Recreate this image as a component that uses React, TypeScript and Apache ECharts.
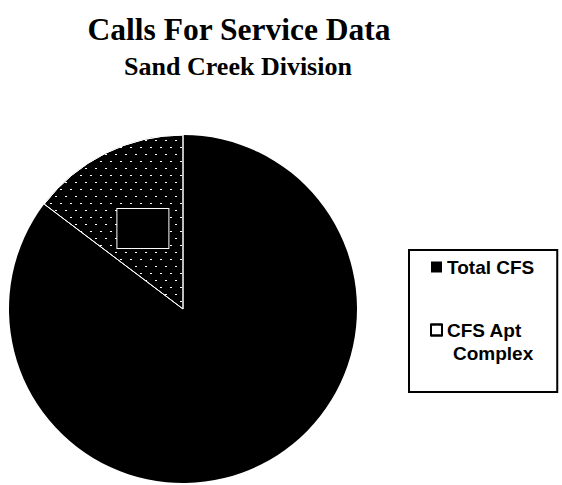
import React, { useEffect, useRef } from "react";
import * as echarts from "echarts";

const categories = ["Total CFS", "CFS Apt Complex"];
const legendLabels = ["Total CFS", "CFS Apt"];
const legendWrap = "Complex";
const values = [85.3, 14.7];
const titleText = "Calls For Service Data";
const subtitleText = "Sand Creek Division";

export default function App() {
  const ref = useRef<HTMLDivElement>(null);
  useEffect(() => {
    if (!ref.current) return;
    const chart = echarts.init(ref.current, null, { renderer: "svg" });
    const legendText = {
      fontFamily: "Liberation Sans",
      fontWeight: "bold",
      fontSize: 19,
      color: "#000",
      lineHeight: 24,
    };
    chart.setOption({
      animation: false,
      backgroundColor: "#fff",
      title: [
        {
          text: titleText,
          left: 234,
          top: 8,
          textAlign: "center",
          textStyle: {
            fontFamily: "Liberation Serif",
            fontWeight: "bold",
            fontSize: 31.5,
            color: "#000",
          },
        },
        {
          text: subtitleText,
          left: 233,
          top: 48,
          textAlign: "center",
          textStyle: {
            fontFamily: "Liberation Serif",
            fontWeight: "bold",
            fontSize: 26,
            color: "#000",
          },
        },
      ],
      legend: {
        orient: "vertical",
        left: 409,
        top: 250,
        borderColor: "#000",
        borderWidth: 2,
        padding: [5, 23, 50, 21],
        itemGap: 39,
        itemWidth: 11,
        itemHeight: 11,
        icon: "rect",
        textStyle: legendText,
        formatter: (name: string) =>
          name === categories[1] ? legendLabels[1] : legendLabels[0],
        data: [
          { name: categories[0], itemStyle: { color: "#000" } },
          {
            name: categories[1],
            itemStyle: { color: "#fff", borderColor: "#000", borderWidth: 2 },
          },
        ],
      },
      graphic: [
        {
          type: "text",
          left: 453,
          top: 344,
          silent: true,
          style: {
            text: legendWrap,
            font: "bold 19px 'Liberation Sans'",
            fill: "#000",
          },
        },
      ],
      series: [
        {
          type: "pie",
          center: [183, 309],
          radius: 174,
          startAngle: 90,
          clockwise: true,
          label: { show: false },
          labelLine: { show: false },
          emphasis: { disabled: true },
          data: [
            {
              name: categories[0],
              value: values[0],
              itemStyle: { color: "#000" },
            },
            {
              name: categories[1],
              value: values[1],
              itemStyle: {
                color: "#000",
                borderColor: "#fff",
                borderWidth: 1,
                decal: {
                  symbol: "rect",
                  symbolSize: 1,
                  color: "#fff",
                  backgroundColor: "#000",
                  dashArrayX: [[2, 8], [0, 5, 2, 3]],
                  dashArrayY: [1, 6],
                  rotation: 0,
                },
              },
              label: {
                show: true,
                position: "inside",
                formatter: " ",
                width: 51,
                height: 39,
                backgroundColor: "#000",
                borderColor: "#fff",
                borderWidth: 1,
              },
            },
          ],
        },
      ],
    });
    return () => chart.dispose();
  }, []);
  return (
    <div
      ref={ref}
      style={{ position: "fixed", left: 0, top: 0, width: 562, height: 485 }}
    />
  );
}
